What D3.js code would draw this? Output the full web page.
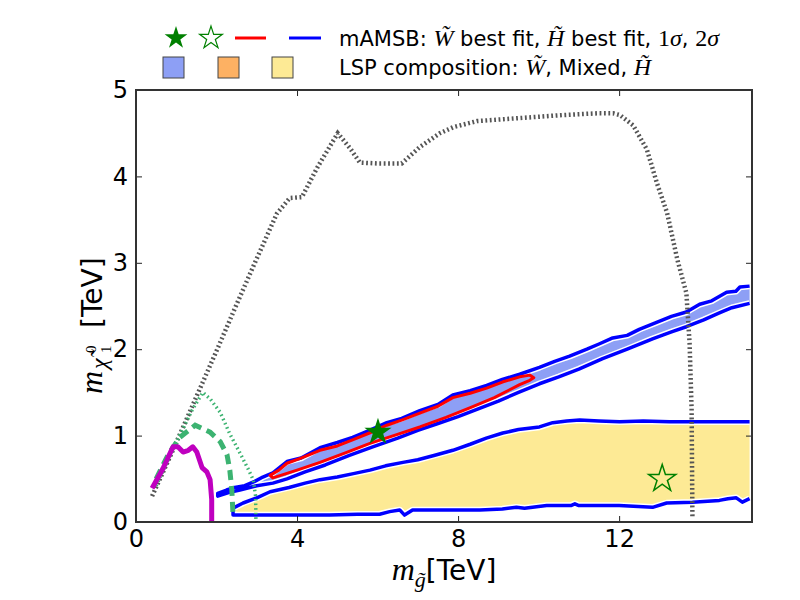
<!DOCTYPE html>
<html>
<head>
<meta charset="utf-8">
<script src="https://cdn.jsdelivr.net/npm/d3@7"></script>
<style>
  body { margin: 0; background: #fff; }
  .tick text { font-family: "DejaVu Sans", sans-serif; fill: #000; }
</style>
</head>
<body>
<div class="main"></div>
<script>
// gluino mass vs neutralino mass, TeV
let xTicks = [0, 4, 8, 12];
let yTicks = [0, 1, 2, 3, 4, 5];

// W-tilde band (2 sigma, blue contour)
let wUpper = [[2.03,0.33],[2.25,0.37],[2.45,0.40],[2.7,0.42],[2.95,0.47],[3.15,0.52],[3.4,0.57],[3.75,0.70],[4.1,0.74],[4.57,0.86],[5.0,0.92],[5.38,0.98],[5.8,1.06],[6.23,1.15],[6.6,1.20],[7.05,1.29],[7.5,1.36],[7.87,1.47],[8.3,1.52],[8.71,1.58],[9.1,1.65],[9.53,1.71],[10.02,1.79],[10.4,1.86],[10.77,1.92],[11.2,2.0],[11.5,2.06],[11.84,2.13],[12.2,2.16],[12.5,2.23],[12.93,2.31],[13.3,2.38],[13.67,2.43],[14.0,2.52],[14.3,2.56],[14.67,2.66],[14.9,2.67],[15.0,2.72],[15.24,2.73]];
let wLower = [[2.03,0.30],[2.3,0.34],[2.58,0.37],[3.0,0.42],[3.4,0.45],[3.75,0.50],[4.2,0.58],[4.7,0.66],[5.3,0.77],[5.88,0.87],[6.5,0.97],[7.0,1.06],[7.5,1.14],[8.0,1.22],[8.5,1.31],[9.0,1.40],[9.5,1.50],[10.02,1.60],[10.5,1.68],[11.0,1.77],[11.59,1.89],[12.2,2.00],[12.83,2.12],[13.3,2.20],[13.67,2.26],[14.1,2.34],[14.49,2.42],[14.8,2.48],[15.24,2.53]];

// H-tilde region
let hUpper = [[2.41,0.16],[2.66,0.22],[3.0,0.28],[3.33,0.35],[3.8,0.40],[4.2,0.45],[4.57,0.49],[5.0,0.52],[5.4,0.56],[5.81,0.60],[6.2,0.65],[6.63,0.69],[7.0,0.72],[7.4,0.77],[7.87,0.83],[8.3,0.90],[8.7,0.97],[9.11,1.03],[9.5,1.07],[10.02,1.10],[10.35,1.15],[10.7,1.17],[11.02,1.18],[11.5,1.17],[12.01,1.16],[12.6,1.17],[13.25,1.16],[14.0,1.16],[14.6,1.16],[15.24,1.16]];
let hLower = [[2.41,0.08],[3.5,0.08],[4.81,0.08],[5.5,0.09],[6.05,0.09],[6.3,0.12],[6.55,0.14],[6.67,0.08],[6.87,0.14],[7.5,0.14],[8.54,0.14],[9.1,0.15],[9.45,0.17],[9.65,0.16],[10.2,0.19],[10.8,0.19],[10.9,0.21],[11.0,0.19],[12.0,0.19],[12.83,0.17],[13.18,0.22],[13.82,0.23],[14.2,0.24],[14.49,0.25],[14.7,0.27],[14.91,0.28],[15.06,0.23],[15.24,0.27]];

// 1 sigma (red contour)
let redUpper = [[3.33,0.54],[3.55,0.60],[3.75,0.68],[4.1,0.74],[4.57,0.83],[5.0,0.88],[5.38,0.95],[5.8,1.03],[6.23,1.12],[6.6,1.18],[7.05,1.26],[7.5,1.34],[7.87,1.44],[8.3,1.49],[8.71,1.55],[9.1,1.62],[9.53,1.68],[9.78,1.70],[9.88,1.67]];
let redLower = [[3.40,0.51],[4.0,0.60],[4.57,0.69],[5.2,0.80],[5.81,0.91],[6.4,1.00],[7.05,1.10],[7.7,1.21],[8.29,1.32],[8.9,1.44],[9.53,1.59],[9.78,1.64]];

// exclusion / sensitivity curves
let grayDotted = [[0.4,0.30],[0.8,0.71],[1.2,1.13],[1.5,1.45],[2.0,1.98],[2.5,2.52],[3.0,3.05],[3.5,3.57],[3.82,3.75],[4.12,3.76],[4.5,4.10],[5.01,4.50],[5.31,4.33],[5.56,4.16],[6.0,4.15],[6.6,4.15],[7.05,4.34],[7.55,4.50],[7.88,4.57],[8.47,4.64],[9.37,4.67],[10.6,4.71],[11.45,4.73],[11.85,4.73],[12.02,4.71],[12.35,4.59],[12.69,4.31],[12.94,3.92],[13.19,3.58],[13.45,3.03],[13.67,2.65],[13.75,2.07],[13.8,1.30],[13.82,0.06]];
let greenDashed = [[0.5,0.50],[0.8,0.78],[1.09,0.98],[1.47,1.12],[1.84,1.04],[2.09,0.93],[2.26,0.78],[2.33,0.60],[2.38,0.37],[2.41,0.08]];
let greenDotted = [[0.5,0.42],[1.0,0.92],[1.4,1.30],[1.66,1.50],[1.85,1.42],[2.09,1.27],[2.33,1.02],[2.58,0.80],[2.8,0.60],[2.91,0.49],[2.97,0.30],[2.98,0.0]];
let magenta = [[0.4,0.39],[0.67,0.62],[0.92,0.87],[1.04,0.87],[1.17,0.81],[1.3,0.83],[1.41,0.87],[1.51,0.81],[1.64,0.63],[1.76,0.58],[1.84,0.49],[1.88,0.26],[1.88,0.0]];

let wBest = [6.01, 1.04];
let hBest = [13.07, 0.50];

let width = 800;
let height = 600;

let x = d3.scaleLinear().domain([0, 15.3]).range([136, 752]);
let y = d3.scaleLinear().domain([0, 5]).range([522, 90]);

let svg = d3.select(".main")
    .append("svg")
    .attr("width", width)
    .attr("height", height);

svg.append("clipPath")
    .attr("id", "plot-clip")
    .append("rect")
    .attr("x", x(0)).attr("y", y(5))
    .attr("width", x(15.3) - x(0)).attr("height", y(0) - y(5));

let line = d3.line().x(d => x(d[0])).y(d => y(d[1]));
let plot = svg.append("g").attr("clip-path", "url(#plot-clip)");

// filled regions
plot.append("path")
    .attr("d", line(hUpper.concat(hLower.slice().reverse())) + "Z")
    .attr("fill", "#fdea95");
plot.append("path")
    .attr("d", line(wUpper.concat(wLower.slice().reverse())) + "Z")
    .attr("fill", "#8d9ff5");

let hContour = hLower.slice().reverse().concat(hUpper);
let wContour = wLower.slice().reverse().concat(wUpper);

// white gap between fill and contour lines
[hContour, wContour].forEach(c => {
    plot.append("path")
        .attr("d", line(c))
        .attr("fill", "none")
        .attr("stroke", "#fff")
        .attr("stroke-width", 6.5)
        .attr("stroke-linejoin", "round");
});
[hContour, wContour].forEach(c => {
    plot.append("path")
        .attr("d", line(c))
        .attr("fill", "none")
        .attr("stroke", "#0000ff")
        .attr("stroke-width", 3.5)
        .attr("stroke-linejoin", "round");
});

plot.append("path")
    .attr("d", line(redUpper.concat(redLower.slice().reverse())) + "Z")
    .attr("fill", "none")
    .attr("stroke", "#ff0000")
    .attr("stroke-width", 3)
    .attr("stroke-linejoin", "round");

plot.append("path")
    .attr("d", line(grayDotted))
    .attr("fill", "none")
    .attr("stroke", "#555")
    .attr("stroke-width", 4.5)
    .attr("stroke-dasharray", "1.8 2.6");

plot.append("path")
    .attr("d", line(greenDashed))
    .attr("fill", "none")
    .attr("stroke", "#3cb371")
    .attr("stroke-width", 5)
    .attr("stroke-dasharray", "10 6");

plot.append("path")
    .attr("d", line(greenDotted))
    .attr("fill", "none")
    .attr("stroke", "#3cb371")
    .attr("stroke-width", 3.5)
    .attr("stroke-dasharray", "1.6 3");

plot.append("path")
    .attr("d", line(magenta))
    .attr("fill", "none")
    .attr("stroke", "#bf00bf")
    .attr("stroke-width", 5)
    .attr("stroke-linejoin", "round");

let star = d3.symbol().type(d3.symbolStar);

plot.append("path")
    .attr("d", star.size(230)())
    .attr("transform", `translate(${x(wBest[0])},${y(wBest[1])})`)
    .attr("fill", "#008000");
plot.append("path")
    .attr("d", star.size(230)())
    .attr("transform", `translate(${x(hBest[0])},${y(hBest[1])})`)
    .attr("fill", "none")
    .attr("stroke", "#008000")
    .attr("stroke-width", 1.5);

// axes, ticks inward on all sides
let fs = 24;
svg.append("g")
    .attr("transform", `translate(0,${y(0)})`)
    .call(d3.axisBottom(x).tickValues(xTicks).tickSize(-6).tickPadding(8).tickFormat(d3.format("d")))
    .call(g => g.select(".domain").remove())
    .call(g => g.selectAll("text").style("font-size", fs + "px"));
svg.append("g")
    .attr("transform", `translate(0,${y(5)})`)
    .call(d3.axisTop(x).tickValues(xTicks).tickSize(-6).tickFormat(""))
    .call(g => g.select(".domain").remove());
svg.append("g")
    .attr("transform", `translate(${x(0)},0)`)
    .call(d3.axisLeft(y).tickValues(yTicks).tickSize(-6).tickPadding(8).tickFormat(d3.format("d")))
    .call(g => g.select(".domain").remove())
    .call(g => g.selectAll("text").style("font-size", fs + "px"));
svg.append("g")
    .attr("transform", `translate(${x(15.3)},0)`)
    .call(d3.axisRight(y).tickValues(yTicks).tickSize(-6).tickFormat(""))
    .call(g => g.select(".domain").remove());
svg.selectAll(".tick line").attr("stroke", "#222").attr("stroke-width", 1);

svg.append("rect")
    .attr("x", x(0)).attr("y", y(5))
    .attr("width", x(15.3) - x(0)).attr("height", y(0) - y(5))
    .attr("fill", "none")
    .attr("stroke", "#333")
    .attr("stroke-width", 2);

// axis labels
let mathFont = "'Liberation Serif', 'DejaVu Serif', serif";
let sansFont = "'DejaVu Sans', sans-serif";

let xl = svg.append("text")
    .attr("x", (x(0) + x(15.3)) / 2)
    .attr("y", 580)
    .attr("text-anchor", "middle");
xl.append("tspan").attr("font-family", mathFont).attr("font-style", "italic").attr("font-size", 32).text("m");
xl.append("tspan").attr("font-family", mathFont).attr("font-style", "italic").attr("font-size", 22).attr("dy", 7).text("g\u0303");
xl.append("tspan").attr("font-family", sansFont).attr("font-size", 28).attr("dy", -7).text("[TeV]");

// y label, pieces placed along the rotated baseline
let yl = svg.append("g")
    .attr("transform", `translate(102,${(y(0) + y(5)) / 2}) rotate(-90)`);
yl.append("text").attr("x", -88).attr("y", 0)
    .attr("font-family", mathFont).attr("font-style", "italic").attr("font-size", 32).text("m");
yl.append("text").attr("x", -63).attr("y", 5)
    .attr("font-family", mathFont).attr("font-style", "italic").attr("font-size", 24).text("\u03c7\u0303");
yl.append("text").attr("x", -47).attr("y", -6)
    .attr("font-family", mathFont).attr("font-size", 15).text("0");
yl.append("text").attr("x", -47).attr("y", 9)
    .attr("font-family", mathFont).attr("font-size", 15).text("1");
yl.append("text").attr("x", -22).attr("y", 0)
    .attr("font-family", sansFont).attr("font-size", 28).text("[TeV]");

// legend
let legend = svg.append("g");
let lfs = 21;
legend.append("path").attr("d", star.size(160)())
    .attr("transform", "translate(176,38)").attr("fill", "#008000");
legend.append("path").attr("d", star.size(160)())
    .attr("transform", "translate(211,38)").attr("fill", "none")
    .attr("stroke", "#008000").attr("stroke-width", 1.2);
legend.append("line").attr("x1", 235).attr("x2", 266).attr("y1", 38).attr("y2", 38)
    .attr("stroke", "#ff0000").attr("stroke-width", 3);
legend.append("line").attr("x1", 289).attr("x2", 321).attr("y1", 38).attr("y2", 38)
    .attr("stroke", "#0000ff").attr("stroke-width", 3);

let squareColors = ["#8d9ff5", "#fdb163", "#fdea95"];
let squareX = [163, 218, 272];
legend.selectAll(".sq")
    .data(squareColors)
    .enter().append("rect")
    .attr("x", (d, i) => squareX[i])
    .attr("y", 57)
    .attr("width", 21).attr("height", 21)
    .attr("fill", d => d)
    .attr("stroke", "#444").attr("stroke-width", 1);

function addRow(yy, parts) {
    let t = legend.append("text").attr("x", 339).attr("y", yy).attr("font-size", lfs);
    parts.forEach(p => {
        let s = t.append("tspan").text(p[0]);
        if (p[1] === "m") {
            s.attr("font-family", mathFont).attr("font-style", "italic").attr("font-size", lfs + 3);
        } else if (p[1] === "r") {
            s.attr("font-family", mathFont).attr("font-size", lfs + 3);
        } else {
            s.attr("font-family", sansFont);
        }
    });
}
addRow(46, [["mAMSB: ", "s"], ["W\u0303", "m"], [" best fit, ", "s"], ["H\u0303", "m"], [" best fit, ", "s"],
    ["1", "r"], ["\u03c3", "m"], [", ", "s"], ["2", "r"], ["\u03c3", "m"]]);
addRow(75, [["LSP composition: ", "s"], ["W\u0303", "m"], [", Mixed, ", "s"], ["H\u0303", "m"]]);
</script>
</body>
</html>
